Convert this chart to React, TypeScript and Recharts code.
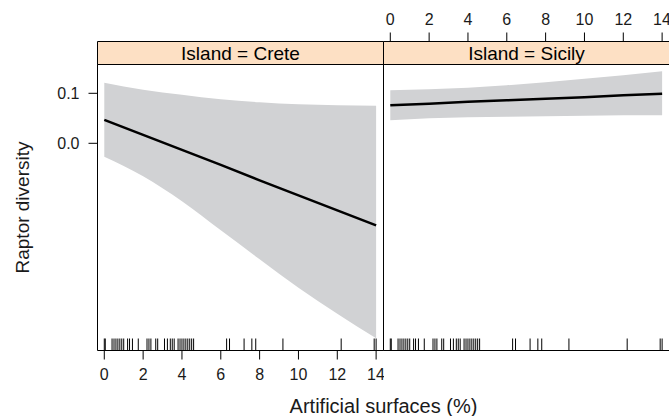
import React from 'react'
import { ComposedChart, Area, Line, Scatter, XAxis, YAxis, ReferenceArea } from 'recharts'

// fitted effect per island
const xs = [0, 2, 4, 6, 8, 10, 12, 14]
const creteFit = [0.047, 0.017, -0.013, -0.043, -0.074, -0.104, -0.134, -0.164]
const creteLower = [-0.027, -0.066, -0.116, -0.174, -0.232, -0.289, -0.341, -0.39]
const creteUpper = [0.121, 0.107, 0.097, 0.088, 0.082, 0.078, 0.076, 0.075]
const sicilyFit = [0.076, 0.079, 0.083, 0.086, 0.089, 0.092, 0.096, 0.099]
const sicilyLower = [0.046, 0.05, 0.052, 0.053, 0.054, 0.055, 0.056, 0.056]
const sicilyUpper = [0.106, 0.108, 0.111, 0.116, 0.122, 0.129, 0.136, 0.144]

// observed artificial surface values (rug)
const rug = [
  0, 0.05, 0.4, 0.5, 0.6, 0.7, 0.8, 0.9, 1.0, 1.2, 1.3, 1.45, 1.75, 2.2, 2.3, 2.4, 2.65, 2.75,
  3.1, 3.25, 3.4, 3.5, 3.6, 3.8, 3.9, 4.0, 4.1, 4.2, 4.3, 4.4, 4.5, 4.6, 6.3, 6.45, 7.2, 7.6,
  7.8, 9.2, 12.2, 13.9, 14.0,
]

const xTicks = [0, 2, 4, 6, 8, 10, 12, 14]
const yTicks = [0, 0.1]
const islands = ['Crete', 'Sicily']

const X_DOMAIN = [-0.35, 14.38]
const Y_MIN = -0.4144
const Y_MAX = 0.2036
const STRIP_BOTTOM = 0.1576

const FONT = '"Liberation Sans", Arial, Helvetica, sans-serif'
const BAND = '#d1d2d4'
const STRIP = '#fde0c4'

function buildData(fit: number[], lower: number[], upper: number[]) {
  return xs.map((x, i) => ({ x, fit: fit[i], band: [lower[i], upper[i]] }))
}

const rugData = rug.map((x) => ({ x, y: Y_MIN }))

const RugTick = (props: any) => {
  const { cx, cy } = props
  return <line x1={cx} x2={cx} y1={cy} y2={cy - 12} stroke="#000" strokeWidth={1} />
}

function Panel({ name, data, first }: { name: string; data: any[]; first: boolean }) {
  const tickStyle = { fontSize: 16, fill: '#1a1a1a', fontFamily: FONT }
  return (
    <ComposedChart
      width={first ? 384 : 287}
      height={416}
      data={data}
      margin={{ top: 0, right: 0.5, bottom: 0, left: first ? 0 : 0.5 }}
    >
      <XAxis
        dataKey="x"
        type="number"
        domain={X_DOMAIN}
        ticks={xTicks}
        height={65.5}
        tickSize={9}
        tickMargin={9}
        axisLine={false}
        tickLine={{ stroke: '#000' }}
        tick={first ? tickStyle : false}
      />
      <XAxis
        xAxisId="top"
        orientation="top"
        dataKey="x"
        type="number"
        domain={X_DOMAIN}
        ticks={xTicks}
        height={41.5}
        tickSize={9}
        tickMargin={8}
        axisLine={false}
        tickLine={{ stroke: '#000' }}
        tick={first ? false : tickStyle}
      />
      <YAxis
        type="number"
        domain={[Y_MIN, Y_MAX]}
        ticks={yTicks}
        hide={!first}
        width={97.5}
        tickSize={9}
        tickMargin={9}
        axisLine={false}
        tickLine={{ stroke: '#000' }}
        tick={tickStyle}
        tickFormatter={(v: number) => v.toFixed(1)}
      />
      <Area
        dataKey="band"
        type="monotone"
        fill={BAND}
        fillOpacity={1}
        stroke="none"
        isAnimationActive={false}
      />
      <Line
        dataKey="fit"
        type="linear"
        stroke="#000"
        strokeWidth={2.5}
        dot={false}
        isAnimationActive={false}
      />
      <Scatter data={rugData} dataKey="y" shape={RugTick} isAnimationActive={false} />
      <ReferenceArea
        y1={STRIP_BOTTOM}
        y2={Y_MAX}
        fill={STRIP}
        fillOpacity={1}
        stroke="#000"
        strokeWidth={1}
        label={{ value: `Island = ${name}`, position: 'center', fill: '#000', fontSize: 19, fontFamily: FONT }}
      />
      <ReferenceArea y1={Y_MIN} y2={STRIP_BOTTOM} fill="none" stroke="#000" strokeWidth={1} />
    </ComposedChart>
  )
}

export default function App() {
  const panels = [
    buildData(creteFit, creteLower, creteUpper),
    buildData(sicilyFit, sicilyLower, sicilyUpper),
  ]
  return (
    <div
      style={{
        position: 'absolute',
        left: 0,
        top: 0,
        width: 669,
        height: 416,
        overflow: 'hidden',
        background: '#fff',
        fontFamily: FONT,
      }}
    >
      <div style={{ position: 'absolute', left: 0, top: 0 }}>
        <Panel name={islands[0]} data={panels[0]} first />
      </div>
      <div style={{ position: 'absolute', left: 383, top: 0 }}>
        <Panel name={islands[1]} data={panels[1]} first={false} />
      </div>
      <svg width={669} height={416} style={{ position: 'absolute', left: 0, top: 0, pointerEvents: 'none' }}>
        <text x={383.5} y={413} textAnchor="middle" fontSize={20} fill="#1a1a1a" fontFamily={FONT}>
          Artificial surfaces (%)
        </text>
        <text
          transform="translate(28.5,207.5) rotate(-90)"
          textAnchor="middle"
          fontSize={19}
          fill="#1a1a1a"
          fontFamily={FONT}
        >
          Raptor diversity
        </text>
      </svg>
    </div>
  )
}
